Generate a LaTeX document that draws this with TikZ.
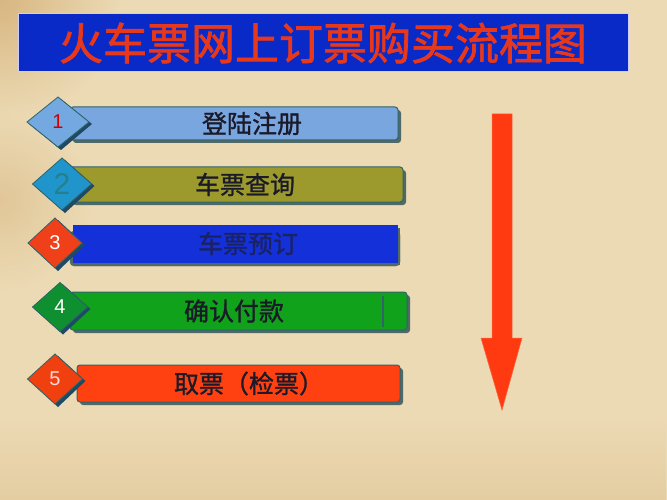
\documentclass[tikz,border=0pt]{standalone}
\usepackage{fontspec}
\newfontfamily\cjk[FakeBold=1.2]{Noto Sans CJK SC}
\newfontfamily\cjktitle[FakeBold=1.6]{Noto Sans CJK SC}
\setsansfont{Liberation Sans}
\usetikzlibrary{shadows,fadings}
\definecolor{bgbase}{HTML}{ECDAB4}
\definecolor{bgdark}{HTML}{C89A58}
\definecolor{titlebg}{HTML}{0A2AC8}
\definecolor{titlered}{HTML}{E8381C}
\definecolor{barline}{HTML}{2F6468}
\definecolor{barshadow}{HTML}{506868}
\definecolor{dkshadow}{HTML}{1E4A66}
\definecolor{cA}{HTML}{7AA6E0}
\definecolor{cB}{HTML}{9C9A2C}
\definecolor{cC}{HTML}{1430D8}
\definecolor{cD}{HTML}{0FA21A}
\definecolor{cE}{HTML}{FF4010}
\definecolor{dA}{HTML}{74A8E0}
\definecolor{dB}{HTML}{1F95CC}
\definecolor{dC}{HTML}{F0401A}
\definecolor{dD}{HTML}{0F9030}
\definecolor{dE}{HTML}{F04010}
\definecolor{numtwo}{HTML}{23808C}
\definecolor{arrowred}{HTML}{FF3A10}
\definecolor{txtdark}{HTML}{1A1A28}
\definecolor{txtnavy}{HTML}{1A2262}
\newcommand\numdiamond[7]{% name, x, y, half-w, half-h, fill, text
  \fill[dkshadow] (#2+3,#3-#5+2) -- (#2+#4+3,#3+2) -- (#2+3,#3+#5+3) -- (#2-#4+2,#3+2) -- cycle;
  \filldraw[fill=#6, draw=barline, line width=0.8pt] (#2,#3-#5) -- (#2+#4,#3) -- (#2,#3+#5) -- (#2-#4,#3) -- cycle;
  \node[numtxt] (#1) at (#2,#3) {#7};}
\begin{document}
\begin{tikzpicture}[x=1pt,y=-1pt,
  barbox/.style={draw=barline, line width=1pt, rounded corners=3pt, inner sep=0pt,
    drop shadow={shadow xshift=3pt, shadow yshift=-3pt, fill=barshadow, opacity=1},
    font=\cjk\fontsize{25}{25}\selectfont, text=txtdark},
  numtxt/.style={inner sep=0pt, font=\sffamily\fontsize{20}{20}\selectfont}]
\useasboundingbox (0,0) rectangle (667,500);
% background
\fill[bgbase] (0,0) rectangle (667,500);
\begin{scope}
\clip (0,0) rectangle (667,500);
\shade[inner color=bgdark, outer color=bgbase, opacity=0.55] (0,0) circle (120);
\shade[inner color=bgdark, outer color=bgbase, opacity=0.3] (0,200) circle (90);
\fill[bgdark, opacity=0.2, path fading=north] (0,420) rectangle (667,500);
\end{scope}
% title
\node[draw=white!80!blue, line width=1pt, fill=titlebg, minimum width=610pt, minimum height=58pt,
  inner sep=0pt, text=titlered, font=\cjktitle\fontsize{44}{44}\selectfont] (title) at (323,43)
  {火车票网上订票购买流程图};
% bars
\node[barbox, fill=cA, minimum width=328pt, minimum height=33pt] (b1) at (234,123.5) {\hspace*{36pt}登陆注册};
\node[barbox, fill=cB, minimum width=333pt, minimum height=35pt] (b2) at (236.5,184.5) {\hspace*{17pt}车票查询};
\filldraw[fill=barshadow, draw=barshadow, rounded corners=4pt] (70,231) rectangle (400,266);
\node[barbox, fill=cC, draw=cC, rounded corners=0pt, text=txtnavy, drop shadow={opacity=0}, minimum width=324pt, minimum height=37pt] (b3) at (235,243.5) {\hspace*{26pt}车票预订};
\node[barbox, fill=cD, minimum width=337pt, minimum height=38pt] (b4) at (238.5,311) {\hspace*{-9pt}确认付款};
\draw[barline, line width=1.2pt] (383,296) -- (383,327);
\node[barbox, fill=cE, minimum width=323pt, minimum height=37pt] (b5) at (238.5,383.5) {\hspace*{21pt}取票（检票）};
% diamonds
\numdiamond{d1}{58}{122}{31}{25}{dA}{\textcolor{red!80!black}{1}}
\numdiamond{d2}{62}{184}{29.5}{26}{dB}{\textcolor{numtwo}{\fontsize{30}{30}\selectfont 2}}
\numdiamond{d3}{55}{243}{27}{25}{dC}{\textcolor{white}{3}}
\numdiamond{d4}{60}{307}{27.5}{24.5}{dD}{\textcolor{white}{4}}
\numdiamond{d5}{55}{379}{27.5}{25}{dE}{\textcolor{white!85!red}{5}}
% big arrow
\coordinate (atop) at (502,114);
\coordinate (atip) at (502,410);
\fill[arrowred, draw=arrowred!80!white, line width=0.5pt]
  (492,114) -- (512,114) -- (512,338) -- (522,338) -- (atip) -- (481,338) -- (492,338) -- cycle;
\end{tikzpicture}
\end{document}
